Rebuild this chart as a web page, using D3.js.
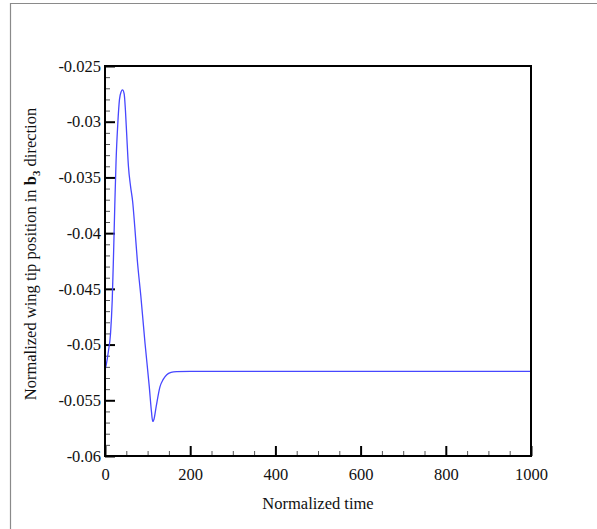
<!DOCTYPE html>
<html>
<head>
<meta charset="utf-8">
<script src="https://cdn.jsdelivr.net/npm/d3@7"></script>
<style>
  body { margin: 0; background: #fff; }
  text { font-family: "Liberation Serif", "Times New Roman", serif; fill: #111; }
</style>
</head>
<body>
<div class="svg-container"></div>
<script>
// data
const timeValues = [0, 3, 8, 13, 17, 20, 23, 26, 30, 34, 38, 41, 45, 48, 51, 55, 60, 65, 70, 76, 84, 94, 104, 109, 112, 115, 120, 129, 137, 145, 155, 168, 200, 1000];
const tipValues = [-0.0523, -0.0518, -0.0506, -0.0490, -0.0460, -0.0420, -0.0375, -0.0335, -0.0302, -0.0280, -0.0273, -0.02715, -0.0275, -0.0290, -0.0312, -0.0340, -0.0358, -0.0372, -0.0395, -0.0425, -0.0456, -0.0499, -0.0538, -0.0560, -0.0569, -0.0567, -0.0556, -0.0538, -0.0531, -0.0527, -0.0525, -0.05243, -0.0524, -0.0524];
const xTicks = [0, 200, 400, 600, 800, 1000];
const yTicks = [-0.025, -0.03, -0.035, -0.04, -0.045, -0.05, -0.055, -0.06];
const yTickLabels = ["-0.025", "-0.03", "-0.035", "-0.04", "-0.045", "-0.05", "-0.055", "-0.06"];

const data = timeValues.map((t, i) => [t, tipValues[i]]);

const W = 597, H = 529;
const margin = { left: 105, right: 531, top: 66, bottom: 456 };

const svg = d3.select(".svg-container")
  .append("svg")
  .attr("width", W)
  .attr("height", H);

// outer frame (only top and left edges visible)
svg.append("path")
  .attr("d", "M10.5," + H + "V3.5H" + W)
  .attr("fill", "none")
  .attr("stroke", "#8a8a8a")
  .attr("stroke-width", 1.2);

const xScale = d3.scaleLinear().domain([0, 1000]).range([margin.left, margin.right]);
const yScale = d3.scaleLinear().domain([-0.06, -0.025]).range([margin.bottom, margin.top]);

// minor ticks
const xMinor = d3.range(0, 1001, 50).filter(v => v % 200 !== 0);
const yMinor = d3.range(-60, -24, 1).filter(v => v % 5 !== 0).map(v => v / 1000);

svg.append("g")
  .attr("transform", "translate(0," + margin.bottom + ")")
  .call(d3.axisBottom(xScale).tickValues(xMinor).tickSize(-5).tickFormat(""))
  .call(g => g.select(".domain").remove())
  .call(g => g.selectAll("line").attr("stroke", "#555").attr("stroke-width", 1));

svg.append("g")
  .attr("transform", "translate(" + margin.left + ",0)")
  .call(d3.axisLeft(yScale).tickValues(yMinor).tickSize(-5).tickFormat(""))
  .call(g => g.select(".domain").remove())
  .call(g => g.selectAll("line").attr("stroke", "#555").attr("stroke-width", 1));

// major ticks
svg.append("g")
  .attr("id", "x-axis")
  .attr("transform", "translate(0," + margin.bottom + ")")
  .call(d3.axisBottom(xScale).tickValues(xTicks).tickSize(-10).tickPadding(12).tickFormat(d => d))
  .call(g => g.select(".domain").remove())
  .call(g => g.selectAll("line").attr("stroke", "#000").attr("stroke-width", 2))
  .call(g => g.selectAll("text").style("font-size", "16.5px").style("font-family", "Liberation Serif").attr("fill", "#111"));

svg.append("g")
  .attr("id", "y-axis")
  .attr("transform", "translate(" + margin.left + ",0)")
  .call(d3.axisLeft(yScale).tickValues(yTicks).tickSize(-10).tickPadding(4).tickFormat((d, i) => yTickLabels[i]))
  .call(g => g.select(".domain").remove())
  .call(g => g.selectAll("line").attr("stroke", "#000").attr("stroke-width", 2))
  .call(g => g.selectAll("text").style("font-size", "16.5px").style("font-family", "Liberation Serif").attr("fill", "#111"));

// curve
const line = d3.line()
  .x(d => xScale(d[0]))
  .y(d => yScale(d[1]))
  .curve(d3.curveMonotoneX);

svg.append("path")
  .datum(data)
  .attr("d", line)
  .attr("fill", "none")
  .attr("stroke", "#4747ff")
  .attr("stroke-width", 1.3);

// plot frame
svg.append("rect")
  .attr("x", margin.left)
  .attr("y", margin.top)
  .attr("width", margin.right - margin.left)
  .attr("height", margin.bottom - margin.top)
  .attr("fill", "none")
  .attr("stroke", "#000")
  .attr("stroke-width", 2);

// x label
svg.append("text")
  .attr("x", 318)
  .attr("y", 509)
  .attr("text-anchor", "middle")
  .style("font-size", "16.5px")
  .text("Normalized time");

// y label
const yLabel = svg.append("text")
  .attr("transform", "translate(36,254) rotate(-90)")
  .attr("text-anchor", "middle")
  .style("font-size", "16.5px");
yLabel.append("tspan").text("Normalized wing tip position in ");
yLabel.append("tspan").attr("font-weight", "bold").text("b");
yLabel.append("tspan").style("font-size", "11px").attr("font-weight", "bold").attr("dy", 4).text("3");
yLabel.append("tspan").attr("dy", -4).text(" direction");
</script>
</body>
</html>
